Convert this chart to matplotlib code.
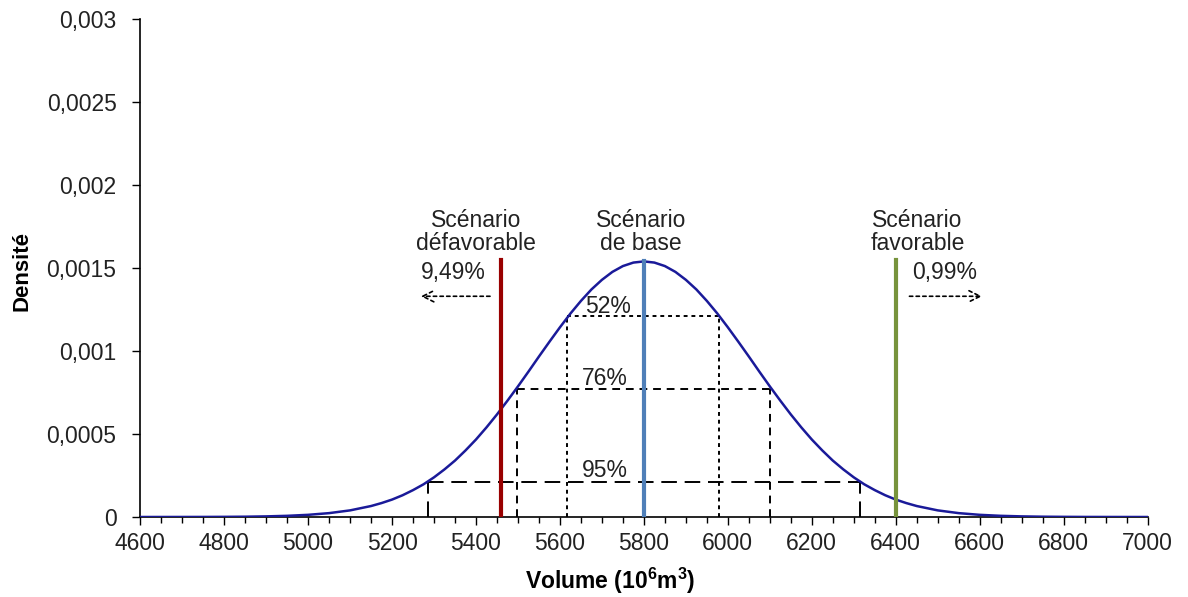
import matplotlib
matplotlib.use("Agg")
import matplotlib.pyplot as plt
from matplotlib.ticker import MultipleLocator, FuncFormatter

plt.rcParams['font.family'] = ['Liberation Sans', 'DejaVu Sans']
plt.rcParams['mathtext.fontset'] = 'custom'
plt.rcParams['mathtext.rm'] = 'Liberation Sans'
plt.rcParams['mathtext.bf'] = 'Liberation Sans:bold'

# Density curve (volume in 10^6 m3)
volume = [4600, 4650, 4700, 4750, 4800, 4850, 4900, 4950, 5000, 5050, 5100, 5150,
          5175, 5200, 5225, 5250, 5275, 5300, 5325, 5350, 5375, 5400, 5425, 5450,
          5475, 5500, 5525, 5550, 5575, 5600, 5625, 5650, 5675, 5700, 5725, 5750,
          5775, 5800, 5825, 5850, 5875, 5900, 5925, 5950, 5975, 6000, 6025, 6050,
          6075, 6100, 6125, 6150, 6175, 6200, 6225, 6250, 6275, 6300, 6325, 6350,
          6375, 6400, 6425, 6450, 6500, 6550, 6600, 6650, 6700, 6750, 6800, 6850,
          6900, 6950, 7000]
density = [0.0, 0.0000001, 0.0000002, 0.0000004, 0.0000009, 0.0000018, 0.0000037,
           0.0000071, 0.0000131, 0.0000233, 0.0000399, 0.0000661,
           0.000084, 0.000105, 0.000131, 0.000162, 0.000197, 0.000239, 0.000287,
           0.000340, 0.000401, 0.000467, 0.000540, 0.000618, 0.000701, 0.000787,
           0.000876, 0.000967, 0.001056, 0.001143, 0.001226, 0.001302, 0.001371,
           0.001429, 0.001477, 0.001512, 0.001533, 0.00154, 0.001533, 0.001512,
           0.001477, 0.001429, 0.001371, 0.001302, 0.001226, 0.001143, 0.001056,
           0.000967, 0.000876, 0.000787, 0.000701, 0.000618, 0.000540, 0.000467,
           0.000401, 0.000340, 0.000287, 0.000239, 0.000197, 0.000162, 0.000131,
           0.000105, 0.000084, 0.0000661, 0.0000399, 0.0000233, 0.0000131,
           0.0000071, 0.0000037, 0.0000018, 0.0000009, 0.0000004, 0.0000002,
           0.0000001, 0.0]

# Scenario lines
scen_x = [5460, 5800, 6400]
scen_top = [0.00155, 0.00154, 0.00155]
scen_colors = ['#990000', '#4F7FB8', '#77933C']
scen_labels = ['Scénario\ndéfavorable', 'Scénario\nde base', 'Scénario\nfavorable']
scen_label_x = [5400, 5793, 6452]

# Confidence intervals
ci_labels = ['52%', '76%', '95%']
ci_low = [5618, 5497, 5285]
ci_high = [5980, 6100, 6315]
ci_height = [0.00121, 0.000771, 0.000211]
ci_label_x = [5714, 5707, 5707]
ci_label_y = [0.00127, 0.000837, 0.00028]

tail_labels = ['9,49%', '0,99%']

FS = 16.5
TXT = '#222222'

fig = plt.figure(figsize=(11.88, 5.97), dpi=100)
ax = fig.add_axes([0.118, 0.134, 0.848, 0.834])

ax.plot(volume, density, color='#1a1a99', lw=1.8, zorder=3)

dash_styles = [(0, (2, 2)), (0, (4, 3)), (0, (8, 4))]
for lab, lo, hi, h, ds, lx, ly in zip(ci_labels, ci_low, ci_high, ci_height,
                                      dash_styles, ci_label_x, ci_label_y):
    ax.plot([lo, hi], [h, h], color='black', lw=1.4, linestyle=ds, zorder=2)
    ax.plot([lo, lo], [0, h], color='black', lw=1.4, linestyle=ds, zorder=2)
    ax.plot([hi, hi], [0, h], color='black', lw=1.4, linestyle=ds, zorder=2)
    ax.text(lx, ly, lab, ha='center', va='center', fontsize=FS, color=TXT)

for x, top, c in zip(scen_x, scen_top, scen_colors):
    ax.plot([x, x], [0, top], color=c, lw=3, zorder=4)

for lab, lx in zip(scen_labels, scen_label_x):
    ax.text(lx, 0.00172, lab, ha='center', va='center', fontsize=FS,
            color=TXT, linespacing=1.0)

ax.text(5345, 0.001475, tail_labels[0], ha='center', va='center', fontsize=FS,
        color=TXT)
ax.text(6517, 0.001475, tail_labels[1], ha='center', va='center', fontsize=FS,
        color=TXT)
ax.annotate('', xy=(5262, 0.00133), xytext=(5440, 0.00133),
            arrowprops=dict(arrowstyle='->', linestyle=(0, (2, 2)), lw=1.2,
                            color='black', mutation_scale=20))
ax.annotate('', xy=(6612, 0.00133), xytext=(6426, 0.00133),
            arrowprops=dict(arrowstyle='->', linestyle=(0, (2, 2)), lw=1.2,
                            color='black', mutation_scale=20))

ax.set_xlim(4600, 7000)
ax.set_ylim(0, 0.003)
ax.xaxis.set_major_locator(MultipleLocator(200))
ax.xaxis.set_minor_locator(MultipleLocator(50))
ax.yaxis.set_major_locator(MultipleLocator(0.0005))


def yfmt(v, pos):
    if abs(v) < 1e-12:
        return '0'
    s = ('%.4f' % v).rstrip('0')
    return s.replace('.', ',')


ax.yaxis.set_major_formatter(FuncFormatter(yfmt))
ax.tick_params(axis='both', labelsize=FS, direction='out', length=6, width=1,
               colors='black', labelcolor=TXT)
ax.tick_params(axis='y', pad=11)
ax.tick_params(axis='x', pad=5)
ax.tick_params(axis='x', which='minor', length=4, width=1)
ax.spines['top'].set_visible(False)
ax.spines['right'].set_visible(False)
ax.spines['left'].set_linewidth(1.2)
ax.spines['bottom'].set_linewidth(1.2)

ax.set_xlabel(r'Volume (10$^{\mathbf{6}}$m$^{\mathbf{3}}$)', fontsize=16.5,
              fontweight='bold')
ax.xaxis.set_label_coords(0.467, -0.129)
ax.xaxis.label.set_va('center')
ax.set_ylabel('Densité', fontsize=16, fontweight='bold')
ax.yaxis.set_label_coords(-0.117, 0.494)
ax.yaxis.label.set_va('center')

fig.savefig('out.png', dpi=100)
